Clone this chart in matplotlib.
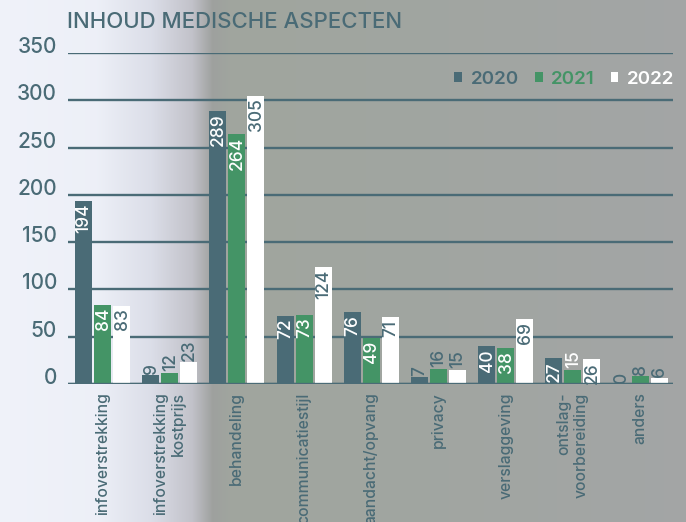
import numpy as np
import matplotlib
matplotlib.use("Agg")
import matplotlib.pyplot as plt

plt.rcParams['font.family'] = ['Inter', 'DejaVu Sans']
plt.rcParams['font.weight'] = 'medium'

# data
categories = ['infoverstrekking', 'infoverstrekking\nkostprijs', 'behandeling',
              'communicatiestijl', 'aandacht/opvang', 'privacy',
              'verslaggeving', 'ontslag-\nvoorbereiding', 'anders']
years = ['2020', '2021', '2022']
v2020 = [194, 9, 289, 72, 76, 7, 40, 27, 0]
v2021 = [84, 12, 264, 73, 49, 16, 38, 15, 8]
v2022 = [83, 23, 305, 124, 71, 15, 69, 26, 6]
yticks = [0, 50, 100, 150, 200, 250, 300, 350]

dark = '#4a6b76'
green = '#449466'
white = '#ffffff'
colors = [dark, green, white]
text_in = [white, white, dark]

fig = plt.figure(figsize=(6.86, 5.22), dpi=100)

# blurred photo background: light on the left, grey on the right
bg = fig.add_axes([0, 0, 1, 1], zorder=-10)
stops = [0.0, 0.14, 0.22, 0.28, 0.31, 0.34, 0.6, 1.0]
cols = np.array([[0.94, 0.95, 0.98], [0.93, 0.94, 0.97], [0.86, 0.87, 0.91],
                 [0.76, 0.76, 0.79], [0.62, 0.63, 0.62], [0.63, 0.65, 0.62],
                 [0.63, 0.65, 0.63], [0.64, 0.65, 0.65]])
xs = np.linspace(0, 1, 686)
grad = np.stack([np.interp(xs, stops, cols[:, c]) for c in range(3)], axis=-1)
bg.imshow(grad[None, :, :], aspect='auto', extent=[0, 1, 0, 1])
bg.axis('off')

ax = fig.add_axes([68 / 686, 1 - 384 / 522, 605 / 686, 331 / 522])
ax.patch.set_visible(False)

x = np.arange(len(categories))
w = 0.253
off = 0.283
series = [v2020, v2021, v2022]
for i, vals in enumerate(series):
    bars = ax.bar(x + (i - 1) * off, vals, width=w, color=colors[i],
                  label=years[i], zorder=3)
    for j, (b, v) in enumerate(zip(bars, vals)):
        cx = b.get_x() + b.get_width() / 2
        if v > 24:
            ax.annotate(str(v), (cx, v), xytext=(0.5, -2), textcoords='offset points',
                        rotation=90, ha='center', va='top', fontsize=12.5,
                        color=text_in[i], zorder=4)
        else:
            c = white if (i == 1 and j == 7) else dark
            ax.annotate(str(v), (cx, v), xytext=(0.5, 1), textcoords='offset points',
                        rotation=90, ha='center', va='bottom', fontsize=12.5,
                        color=c, zorder=4)

ax.set_xlim(-0.513, 8.49)
ax.set_ylim(0, 350)
ax.set_yticks(yticks)
ax.set_yticklabels([str(t) for t in yticks], va='baseline')
ax.grid(axis='y', color=dark, linewidth=1.7, zorder=1)
ax.axhline(0, color=dark, linewidth=2.4, zorder=5)
for s in ax.spines.values():
    s.set_visible(False)
ax.tick_params(axis='y', length=0, pad=8, labelsize=15, labelcolor=dark)
ax.tick_params(axis='x', length=0, pad=6)
ax.set_xticks(x)
ax.set_xticklabels(categories, rotation=90, ha='center', va='top',
                   multialignment='right', fontsize=11.3, color=dark)

leg = ax.legend(loc='upper right', bbox_to_anchor=(1.002, 0.947), ncol=3,
                frameon=False, fontsize=13.5, handlelength=0.42, handleheight=0.42,
                handletextpad=0.45, columnspacing=0.85, borderaxespad=0,
                borderpad=0)
for t, c in zip(leg.get_texts(), colors):
    t.set_color(c)
    t.set_fontweight('semibold')

fig.text(67 / 686, 1 - 22 / 522, 'INHOUD MEDISCHE ASPECTEN', fontsize=16,
         color=dark, va='center', ha='left')

fig.savefig('out.png', dpi=100)
